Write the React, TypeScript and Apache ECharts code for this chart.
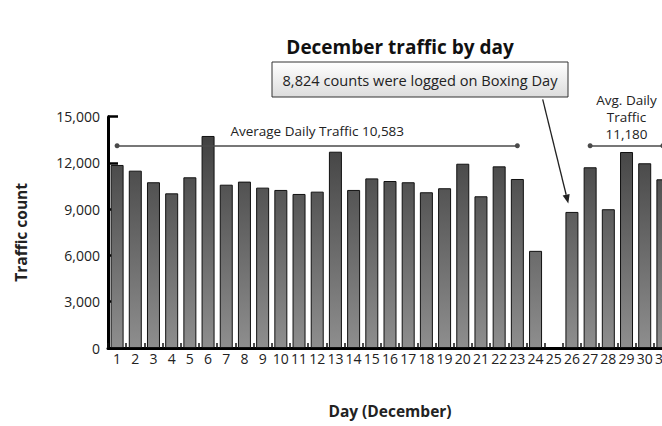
import React, { useEffect, useRef } from "react";
import * as echarts from "echarts";

const days = ["1","2","3","4","5","6","7","8","9","10","11","12","13","14","15","16","17","18","19","20","21","22","23","24","25","26","27","28","29","30","31"];
const traffic: (number | null)[] = [11870,11500,10750,10030,11070,13750,10590,10790,10400,10250,9990,10140,12730,10250,11000,10830,10750,10100,10360,11950,9840,11780,10960,6300,null,8824,11720,9000,12710,11980,10940];
const yTicks = { min: 0, max: 15000, interval: 3000 };
const avgLineLevel = 13120;
const avgFirst = { from: "1", to: "23", label: "Average Daily Traffic 10,583" };
const avgSecond = { from: "27", to: "31", label: "Avg. Daily\nTraffic\n11,180" };
const titleText = "December traffic by day";
const calloutText = "8,824 counts were logged on Boxing Day";
const xName = "Day (December)";
const yName = "Traffic count";

const FONT = "'Open Sans', 'Noto Sans', sans-serif";

export default function App() {
  const ref = useRef<HTMLDivElement>(null);
  useEffect(() => {
    if (!ref.current) return;
    const chart = echarts.init(ref.current, undefined, { renderer: "svg" });

    const lineStart = [542.7, 99.3];
    const tip = [568.3, 203.5];
    const dx = tip[0] - lineStart[0];
    const dy = tip[1] - lineStart[1];
    const len = Math.sqrt(dx * dx + dy * dy);
    const ux = dx / len, uy = dy / len;
    const hl = 9, hw = 3.6;
    const bx = tip[0] - ux * hl, by = tip[1] - uy * hl;
    const px = -uy, py = ux;

    chart.setOption({
      animation: false,
      grid: { left: 108, right: 28, top: 116.7, bottom: 78, containLabel: false },
      xAxis: {
        type: "category",
        data: days,
        name: xName,
        nameLocation: "middle",
        nameGap: 55,
        nameTextStyle: { fontFamily: FONT, fontWeight: "bold", fontSize: 15.5, color: "#222" },
        axisLine: { lineStyle: { color: "#000", width: 3 } },
        axisTick: { show: true, inside: true, length: 5, interval: 0, lineStyle: { color: "#111", width: 1.5 } },
        axisLabel: { interval: 0, margin: 3, fontFamily: FONT, fontSize: 14, color: "#222" },
        splitLine: { show: false },
      },
      yAxis: {
        type: "value",
        min: yTicks.min,
        max: yTicks.max,
        interval: yTicks.interval,
        name: yName,
        nameLocation: "middle",
        nameGap: 79,
        nameRotate: 90,
        nameTextStyle: { fontFamily: FONT, fontWeight: "bold", fontSize: 15.5, color: "#222" },
        axisLine: { show: true, lineStyle: { color: "#000", width: 3 } },
        axisTick: { show: true, inside: true, length: 10, lineStyle: { color: "#000", width: 2.5 } },
        axisLabel: {
          margin: 8,
          fontFamily: FONT,
          fontSize: 14,
          color: "#222",
          padding: [7, 0, 0, 0],
          formatter: (v: number) => v.toLocaleString("en-US"),
        },
        splitLine: { show: false },
      },
      series: [
        {
          type: "bar",
          data: traffic,
          barWidth: 13,
          itemStyle: {
            color: new echarts.graphic.LinearGradient(0, 116.7, 0, 348, [
              { offset: 0, color: "#3a3a3a" },
              { offset: 1, color: "#8e8e8e" },
            ], true),
            borderColor: "#111",
            borderWidth: 1,
          },
          markLine: {
            silent: true,
            symbol: ["circle", "circle"],
            symbolSize: 5,
            lineStyle: { color: "#4a4a4a", width: 1.5, type: "solid" },
            itemStyle: { color: "#222" },
            label: { show: true, position: "middle", fontFamily: FONT, fontSize: 13.5, color: "#222" },
            emphasis: { disabled: true },
            data: [
              [
                { coord: [avgFirst.from, avgLineLevel], label: { formatter: avgFirst.label, distance: 8 } },
                { coord: [avgFirst.to, avgLineLevel] },
              ],
              [
                { coord: [avgSecond.from, avgLineLevel], label: { formatter: avgSecond.label, distance: 3, lineHeight: 17 } },
                { coord: [avgSecond.to, avgLineLevel] },
              ],
            ],
          },
        },
      ],
      graphic: [
        {
          type: "text",
          x: 400,
          y: 47,
          style: {
            text: titleText,
            align: "center",
            verticalAlign: "middle",
            fontFamily: FONT,
            fontWeight: "bold",
            fontSize: 19,
            fill: "#111",
          },
        },
        {
          type: "rect",
          shape: { x: 272, y: 62, width: 296, height: 35 },
          style: {
            fill: new echarts.graphic.LinearGradient(0, 0, 0, 1, [
              { offset: 0, color: "#ffffff" },
              { offset: 1, color: "#dcdcdc" },
            ]),
            stroke: "#333",
            lineWidth: 1,
          },
          z: 10,
        },
        {
          type: "text",
          x: 420,
          y: 80,
          z: 11,
          style: {
            text: calloutText,
            align: "center",
            verticalAlign: "middle",
            fontFamily: FONT,
            fontSize: 14.6,
            fill: "#222",
          },
        },
        {
          type: "line",
          z: 10,
          shape: { x1: lineStart[0], y1: lineStart[1], x2: bx, y2: by },
          style: { stroke: "#222", lineWidth: 1.3 },
        },
        {
          type: "polygon",
          z: 10,
          shape: {
            points: [
              [tip[0], tip[1]],
              [bx + px * hw, by + py * hw],
              [bx - px * hw, by - py * hw],
            ],
          },
          style: { fill: "#222" },
        },
      ],
    });
    return () => chart.dispose();
  }, []);

  return (
    <div style={{ position: "fixed", left: 0, top: 0, width: 662, height: 426, overflow: "hidden", background: "#fff" }}>
      <div ref={ref} style={{ position: "absolute", left: 0, top: 0, width: 700, height: 426 }} />
    </div>
  );
}
